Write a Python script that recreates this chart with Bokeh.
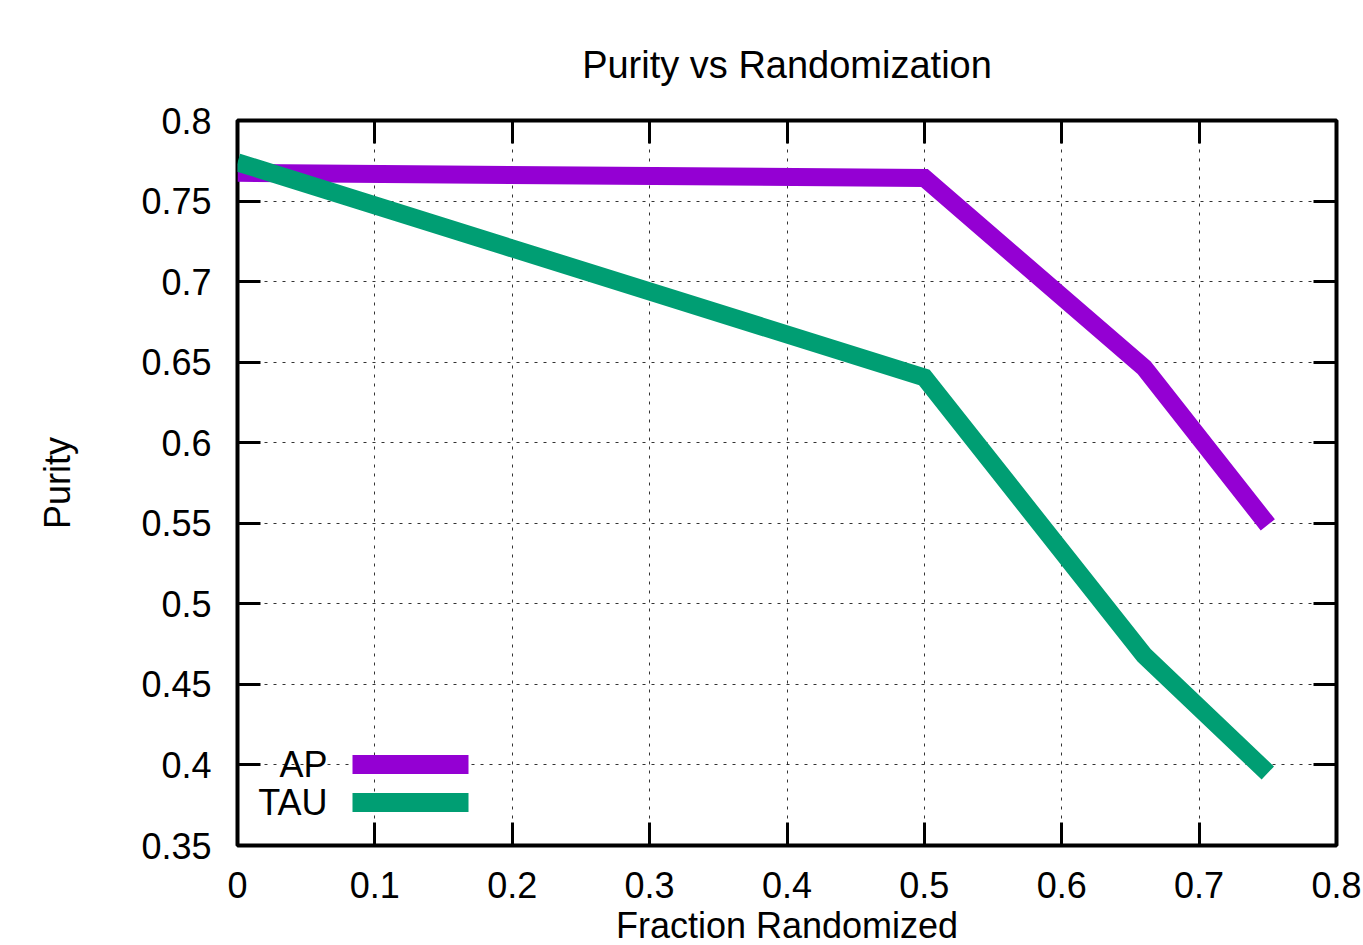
from bokeh.plotting import figure
from bokeh.models import Range1d, FixedTicker, LinearAxis, Label, BoxAnnotation
from bokeh.embed import file_html
from bokeh.resources import INLINE

# Data
frac = [0.0, 0.5, 0.66, 0.75]
ap = [0.7675, 0.7643, 0.6465, 0.549]
tau = [0.7740, 0.6405, 0.4680, 0.3950]
series_names = ["AP", "TAU"]
series_colors = ["#9400d3", "#009e73"]

x_ticks = [0.0, 0.1, 0.2, 0.3, 0.4, 0.5, 0.6, 0.7, 0.8]
x_tick_labels = ["0", "0.1", "0.2", "0.3", "0.4", "0.5", "0.6", "0.7", "0.8"]
y_ticks = [0.35, 0.4, 0.45, 0.5, 0.55, 0.6, 0.65, 0.7, 0.75, 0.8]
y_tick_labels = ["0.35", "0.4", "0.45", "0.5", "0.55", "0.6", "0.65", "0.7", "0.75", "0.8"]

FONT = "Liberation Sans"
FS = "36px"

p = figure(
    frame_width=1099, frame_height=725,
    min_border_left=237, min_border_right=27, min_border_top=120, min_border_bottom=92,
    x_range=Range1d(0, 0.8), y_range=Range1d(0.35, 0.8),
    output_backend="svg", toolbar_location=None,
    title="Purity vs Randomization",
)
p.background_fill_color = "white"
p.border_fill_color = "white"
p.outline_line_color = "black"
p.outline_line_width = 4

p.title.text_font = FONT
p.title.text_font_size = "38px"
p.title.text_font_style = "normal"
p.title.text_color = "black"
p.title.align = "center"
p.title.standoff = 70

for ax in [p.xaxis[0], p.yaxis[0]]:
    ax.major_label_text_font = FONT
    ax.major_label_text_font_size = FS
    ax.major_label_text_color = "black"
    ax.axis_label_text_font = FONT
    ax.axis_label_text_font_size = FS
    ax.axis_label_text_font_style = "normal"
    ax.axis_label_text_color = "black"
    ax.major_tick_in = 23
    ax.major_tick_out = 0
    ax.major_tick_line_width = 3
    ax.major_tick_line_color = "black"
    ax.minor_tick_line_color = None
    ax.axis_line_color = None

p.xaxis[0].ticker = FixedTicker(ticks=x_ticks)
p.xaxis[0].major_label_overrides = {t: l for t, l in zip(x_ticks, x_tick_labels)}
p.xaxis[0].major_label_standoff = 26
p.xaxis[0].axis_label = "Fraction Randomized"
p.xaxis[0].axis_label_standoff = 4

p.yaxis[0].ticker = FixedTicker(ticks=y_ticks)
p.yaxis[0].major_label_overrides = {t: l for t, l in zip(y_ticks, y_tick_labels)}
p.yaxis[0].major_label_standoff = 26
p.yaxis[0].axis_label = "Purity"
p.yaxis[0].axis_label_standoff = 60

# mirrored tick axes (no labels)
top = LinearAxis(ticker=FixedTicker(ticks=x_ticks))
right = LinearAxis(ticker=FixedTicker(ticks=y_ticks))
top.major_label_overrides = {t: "" for t in x_ticks}
right.major_label_overrides = {t: "" for t in y_ticks}
for ax in [top, right]:
    ax.major_label_standoff = 0
    ax.major_tick_in = 23
    ax.major_tick_out = 0
    ax.major_tick_line_width = 3
    ax.major_tick_line_color = "black"
    ax.minor_tick_line_color = None
    ax.axis_line_color = None
p.add_layout(top, "above")
p.add_layout(right, "right")

p.xgrid.ticker = FixedTicker(ticks=x_ticks)
p.ygrid.ticker = FixedTicker(ticks=y_ticks)
for g in [p.xgrid[0], p.ygrid[0]]:
    g.grid_line_color = "black"
    g.grid_line_dash = "3 6"
    g.grid_line_width = 1
    g.grid_line_alpha = 0.8

for ys, c in zip([ap, tau], series_colors):
    p.line(frac, ys, line_color=c, line_width=18, line_cap="butt", line_join="miter")

# legend (gnuplot style: label then sample), in screen units relative to frame
leg_y = [81, 43]
for name, c, yy in zip(series_names, series_colors, leg_y):
    p.add_layout(Label(x=90, y=yy, x_units="screen", y_units="screen", text=name,
                       text_font=FONT, text_font_size=FS, text_align="right",
                       text_baseline="middle", text_color="black"))
    p.add_layout(BoxAnnotation(left=115, right=231, bottom=yy - 9.5, top=yy + 9.5,
                               left_units="screen", right_units="screen",
                               bottom_units="screen", top_units="screen",
                               fill_color=c, fill_alpha=1, line_color=None))

open("out.html", "w").write(file_html(p, INLINE))
